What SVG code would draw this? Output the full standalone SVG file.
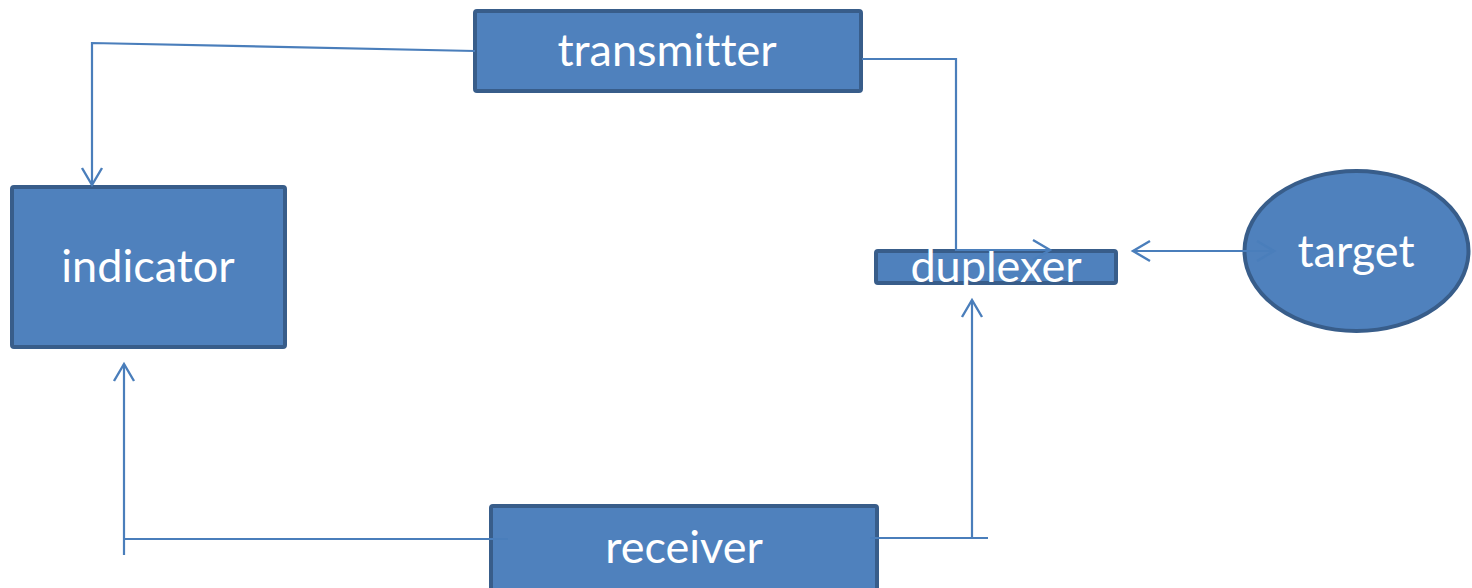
<svg xmlns="http://www.w3.org/2000/svg" width="1472" height="588" viewBox="0 0 1472 588">
  <style>
    .box { fill: #4f81bd; stroke: #385d8a; stroke-width: 4; }
    .label { font-family: Lato, "Open Sans", "Liberation Sans", sans-serif; font-size: 45px; fill: #ffffff; text-anchor: middle; font-variant-ligatures: none; font-feature-settings: "liga" 0; }
    .wire { fill: none; stroke: #4a7ebb; stroke-width: 2.2; }
  </style>
  <defs>
    <marker id="open-arrow" markerUnits="userSpaceOnUse" markerWidth="40" markerHeight="40" viewBox="-20 -20 40 40" refX="0" refY="0" orient="auto-start-reverse" overflow="visible">
      <path d="M-17,-10 L0,0 L-17,10" fill="none" stroke="#4a7ebb" stroke-width="2.4"/>
    </marker>
  </defs>
  <rect width="1472" height="588" fill="#ffffff"/>

  <g id="transmitter">
    <rect class="box" x="475" y="11" width="386" height="80" rx="2"/>
    <text class="label" x="667" y="66">transmitter</text>
  </g>

  <g id="indicator">
    <rect class="box" x="12" y="187" width="273" height="160" rx="2"/>
    <text class="label" x="148" y="282">indicator</text>
  </g>

  <g id="duplexer">
    <rect class="box" x="876" y="251" width="240" height="32" rx="2"/>
    <text class="label" x="996" y="282">duplexer</text>
  </g>

  <g id="receiver">
    <rect class="box" x="491" y="506" width="386" height="90" rx="2"/>
    <text class="label" x="684" y="563">receiver</text>
  </g>

  <g id="target">
    <ellipse class="box" cx="1356.5" cy="251" rx="112" ry="80"/>
    <text class="label" x="1356" y="267">target</text>
  </g>

  <g id="connectors">
    <!-- transmitter to indicator -->
    <polyline class="wire" points="475,51 92,43 92,185" marker-end="url(#open-arrow)"/>
    <!-- transmitter to duplexer -->
    <polyline class="wire" points="862,59 956,59 956,250 1050,250" marker-end="url(#open-arrow)"/>
    <!-- duplexer to/from target -->
    <line class="wire" x1="1133" y1="251" x2="1274" y2="251" marker-start="url(#open-arrow)" marker-end="url(#open-arrow)"/>
    <!-- receiver to indicator -->
    <line class="wire" x1="508" y1="539" x2="124" y2="539"/>
    <line class="wire" x1="124" y1="555" x2="124" y2="364" marker-end="url(#open-arrow)"/>
    <!-- receiver to duplexer -->
    <line class="wire" x1="870" y1="538" x2="988" y2="538"/>
    <line class="wire" x1="972" y1="538" x2="972" y2="300" marker-end="url(#open-arrow)"/>
  </g>
</svg>
